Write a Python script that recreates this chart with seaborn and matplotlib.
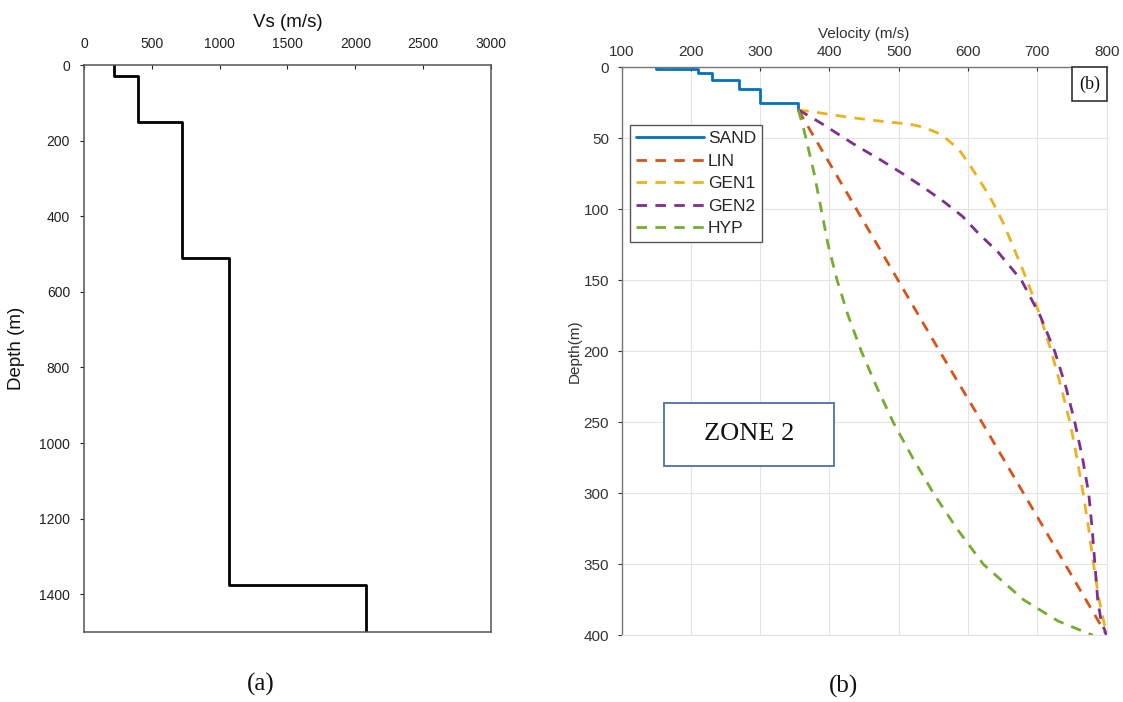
import matplotlib
matplotlib.use("Agg")
import matplotlib.pyplot as plt
from matplotlib.patches import Rectangle
import pandas as pd
import seaborn as sns

# ---------------- (a) layered shear-wave velocity profile ----------------
layer_top = [0, 30, 150, 510, 1375]          # m
layer_vs = [220, 395, 720, 1070, 2080]       # m/s
profile_bottom = 1500

# ---------------- (b) zone 2 velocity models ----------------
sand_top = [0, 1, 4, 9, 15, 25]
sand_vs = [150, 210, 230, 270, 300, 355]
sand_bottom = 30

lin_depth = [30, 100, 150, 200, 250, 300, 350, 400]
lin_vs = [355, 439, 499, 559, 620, 680, 740, 800]

gen1_depth = [30, 32, 35, 38, 40, 42, 46, 50, 55, 60, 70, 80, 90, 100, 110,
              125, 150, 175, 200, 225, 250, 275, 300, 325, 350, 375, 400]
gen1_vs = [355, 385, 425, 475, 515, 535, 555, 568, 580, 590, 604, 617, 630,
           641, 651, 664, 685, 704, 720, 734, 747, 757, 766, 774, 781, 789, 800]

gen2_depth = [30, 35, 40, 45, 50, 55, 65, 75, 85, 95, 105, 117, 130, 150, 175,
              200, 225, 250, 275, 300, 325, 350, 375, 390, 400]
gen2_vs = [355, 373, 390, 406, 422, 438, 473, 506, 537, 566, 592, 615, 643,
           677, 704, 725, 741, 754, 765, 774, 779, 783, 787, 792, 800]

hyp_depth = [30, 40, 50, 75, 100, 125, 150, 175, 200, 225, 250, 275, 300,
             325, 350, 375, 390, 400]
hyp_vs = [355, 361, 366, 378, 388, 398, 411, 427, 446, 468, 492, 520, 550,
          584, 622, 680, 730, 780]

model_names = ["SAND", "LIN", "GEN1", "GEN2", "HYP"]
model_colors = ["#0072BD", "#D95319", "#EDB120", "#7E2F8E", "#77AC30"]


def staircase(tops, vels, bottom):
    """Turn layer tops/velocities into a stepped (velocity, depth) path."""
    bottoms = list(tops[1:]) + [bottom]
    v, d = [], []
    for t, b, vel in zip(tops, bottoms, vels):
        v += [vel, vel]
        d += [t, b]
    return v, d


sns.set_theme(style="white")
plt.rcParams["font.family"] = ["Liberation Sans", "DejaVu Sans"]
serif = ["Liberation Serif", "DejaVu Serif"]

fig = plt.figure(figsize=(11.23, 7.02), dpi=100)

# ---------------- panel (a) ----------------
ax1 = fig.add_axes([0.0748, 0.0997, 0.3624, 0.8077])
pv, pd_ = staircase(layer_top, layer_vs, profile_bottom)
prof = pd.DataFrame({"Vs": pv, "Depth": pd_})
sns.lineplot(data=prof, x="Vs", y="Depth", sort=False, estimator=None,
             color="black", lw=2.0, ax=ax1)
ax1.set_xlim(0, 3000)
ax1.set_ylim(1500, 0)
ax1.set_xticks(range(0, 3001, 500))
ax1.set_yticks(range(0, 1401, 200))
ax1.xaxis.tick_top()
ax1.xaxis.set_label_position("top")
ax1.set_xlabel("Vs (m/s)", fontsize=13.5, labelpad=7, color="#111")
ax1.set_ylabel("Depth (m)", fontsize=13.5, labelpad=10, color="#111")
ax1.tick_params(axis="x", direction="in", length=3, width=0.8, pad=10,
                labelsize=10, colors="#222", top=True, bottom=False)
ax1.tick_params(axis="y", direction="out", length=3, width=0.8, pad=7,
                labelsize=10, colors="#222", left=True)
for s in ax1.spines.values():
    s.set_color("#555")
    s.set_linewidth(1.1)

# ---------------- panel (b) ----------------
ax2 = fig.add_axes([0.5535, 0.0950, 0.432, 0.8091])
sv, sd = staircase(sand_top, sand_vs, sand_bottom)
series = {
    "SAND": (sv, sd),
    "LIN": (lin_vs, lin_depth),
    "GEN1": (gen1_vs, gen1_depth),
    "GEN2": (gen2_vs, gen2_depth),
    "HYP": (hyp_vs, hyp_depth),
}
for name, color in zip(model_names, model_colors):
    v, d = series[name]
    df = pd.DataFrame({"Velocity": v, "Depth": d})
    ls = "-" if name == "SAND" else (0, (3.8, 3.0))
    sns.lineplot(data=df, x="Velocity", y="Depth", sort=False,
                 estimator=None, color=color, lw=2.0, linestyle=ls,
                 label=name, ax=ax2)

ax2.set_xlim(100, 800)
ax2.set_ylim(400, 0)
ax2.set_xticks(range(100, 801, 100))
ax2.set_yticks(range(0, 401, 50))
ax2.xaxis.tick_top()
ax2.xaxis.set_label_position("top")
ax2.set_xlabel("Velocity (m/s)", fontsize=11, labelpad=5, color="#333")
ax2.set_ylabel("Depth(m)", fontsize=11, color="#333")
ax2.yaxis.set_label_coords(-0.083, 0.5)
ax2.grid(True, color="#e4e4e4", lw=0.8)
ax2.set_axisbelow(True)
ax2.tick_params(axis="x", direction="in", length=3, width=0.8, pad=6,
                labelsize=11, colors="#333", top=True, bottom=False)
ax2.tick_params(axis="y", direction="out", length=3, width=0.8, pad=6,
                labelsize=11, colors="#333", left=True)
for side in ["left", "top"]:
    ax2.spines[side].set_color("#777")
    ax2.spines[side].set_linewidth(1.0)
for side in ["right", "bottom"]:
    ax2.spines[side].set_color("#e4e4e4")
    ax2.spines[side].set_linewidth(0.8)

leg = ax2.legend(loc="upper left", bbox_to_anchor=(0.0173, 0.898),
                 fontsize=12.5, handlelength=3.9, handletextpad=0.25,
                 labelspacing=0.42, borderpad=0.35, frameon=True,
                 fancybox=False, framealpha=1.0, borderaxespad=0)
leg.get_frame().set_edgecolor("#555")
leg.get_frame().set_linewidth(1.0)

# corner tag
ax2.add_patch(Rectangle((0.9285, 0.9407), 0.0715, 0.0593,
                        transform=ax2.transAxes, fill=True, facecolor="white",
                        edgecolor="#333", lw=1.2, clip_on=False, zorder=5))
ax2.text(0.9643, 0.970, "(b)", transform=ax2.transAxes, ha="center",
         va="center", fontsize=13, family=serif, color="#111", zorder=6)

# zone annotation
ax2.add_patch(Rectangle((0.088, 0.298), 0.350, 0.1115,
                        transform=ax2.transAxes, fill=True, facecolor="white",
                        edgecolor="#4f6fa8", lw=1.3, zorder=5))
ax2.text(0.263, 0.354, "ZONE 2", transform=ax2.transAxes, ha="center",
         va="center", fontsize=19, family=serif, color="#111", zorder=6)

# panel captions
fig.text(261 / 1123, 1 - 684 / 702, "(a)", ha="center", va="center",
         fontsize=18, family=serif, color="#111")
fig.text(844 / 1123, 1 - 686 / 702, "(b)", ha="center", va="center",
         fontsize=18, family=serif, color="#111")

fig.savefig("out.png", dpi=100)
